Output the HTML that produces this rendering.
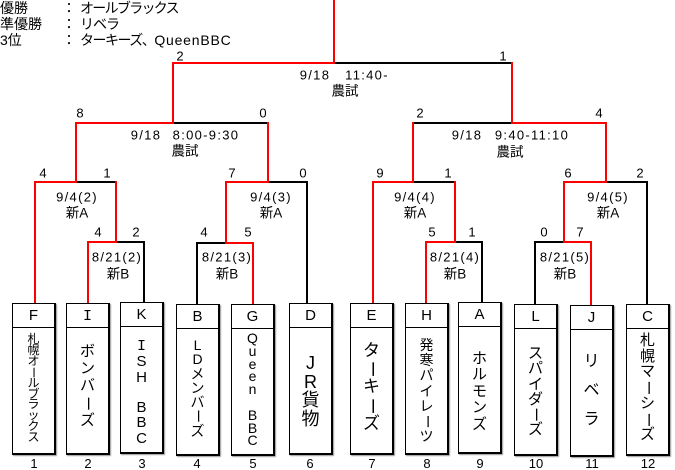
<!DOCTYPE html>
<html><head><meta charset="utf-8">
<style>
html,body{margin:0;padding:0;background:#fff;}
#c{position:relative;width:675px;height:470px;overflow:hidden;background:#fff;font-family:"Liberation Sans","Noto Sans CJK JP",sans-serif;color:#000;}
svg{position:absolute;left:0;top:0;}
.t{position:absolute;transform:translate(-50%,-50%);white-space:nowrap;line-height:1;}
.s{font-size:13px;}
.m{font-size:13px;letter-spacing:1.3px;}
.j{font-size:13.5px;}
.h{position:absolute;left:0;white-space:nowrap;font-size:14px;line-height:1;}
.box{position:absolute;box-sizing:border-box;width:44px;height:152px;border:1px solid #000;border-right-width:2px;border-bottom-width:2px;background:#fff;box-shadow:1px 1px 1px #999;}
.box .hd{position:absolute;left:0;right:0;top:0;height:23px;border-bottom:1px solid #000;text-align:center;line-height:24px;font-size:15px;}
.box .bd{position:absolute;left:0;right:0;}
.box .bd div{text-align:center;}
.r{display:inline-block;transform:rotate(90deg);}
.num{position:absolute;top:457px;font-size:13px;line-height:1;transform:translateX(-50%);}
</style></head><body>
<div id="c">
<svg width="675" height="470" viewBox="0 0 675 470">
<g fill="none" stroke="#000" stroke-width="2" stroke-linecap="square">
<path d="M334 63 H512"/>
<path d="M173 123 H268"/>
<path d="M76 182 H116"/>
<path d="M116 242 H144 V302"/>
<path d="M268 182 H307 V303"/>
<path d="M197 304 V243 H226"/>
<path d="M413 123 H512"/>
<path d="M413 182 H455"/>
<path d="M455 242 H482 V302"/>
<path d="M606 182 H647 V303"/>
<path d="M535 304 V242 H564"/>
</g>
<g fill="none" stroke="#ff0000" stroke-width="2" stroke-linecap="square">
<path d="M334 0 V63 H173 V123 H76 V182 H35 V303"/>
<path d="M268 123 V182 H226 V243 H253 V305"/>
<path d="M116 182 V242 H88 V303"/>
<path d="M512 63 V123 H606 V182 H564 V242 H591 V306"/>
<path d="M413 123 V182 H373 V303"/>
<path d="M455 182 V242 H426 V303"/>
</g>
</svg>

<!-- header -->
<div class="h" style="top:1px;">優勝</div>
<div class="h" style="top:1px;left:62px;">：</div>
<div class="h" style="top:1px;left:80px;letter-spacing:-1.7px;">オールブラックス</div>
<div class="h" style="top:17px;">準優勝</div>
<div class="h" style="top:17px;left:62px;">：</div>
<div class="h" style="top:17px;left:80px;letter-spacing:-1px;">リベラ</div>
<div class="h" style="top:33px;">3位</div>
<div class="h" style="top:33px;left:62px;">：</div>
<div class="h" style="top:33px;left:80px;"><span style="letter-spacing:-1.5px;">ターキーズ、</span><span style="letter-spacing:0.8px;">QueenBBC</span></div>

<!-- scores -->
<div class="t s" style="left:180px;top:56px;">2</div>
<div class="t s" style="left:503px;top:56px;">1</div>
<div class="t s" style="left:80px;top:113px;">8</div>
<div class="t s" style="left:263px;top:113px;">0</div>
<div class="t s" style="left:420px;top:113px;">2</div>
<div class="t s" style="left:599px;top:113px;">4</div>
<div class="t s" style="left:43px;top:173px;">4</div>
<div class="t s" style="left:107px;top:173px;">1</div>
<div class="t s" style="left:232px;top:173px;">7</div>
<div class="t s" style="left:303px;top:173px;">0</div>
<div class="t s" style="left:380px;top:173px;">9</div>
<div class="t s" style="left:448px;top:173px;">1</div>
<div class="t s" style="left:568px;top:173px;">6</div>
<div class="t s" style="left:640px;top:173px;">2</div>
<div class="t s" style="left:98px;top:232px;">4</div>
<div class="t s" style="left:136px;top:232px;">2</div>
<div class="t s" style="left:204px;top:232px;">4</div>
<div class="t s" style="left:248px;top:232px;">5</div>
<div class="t s" style="left:432px;top:232px;">5</div>
<div class="t s" style="left:472px;top:232px;">1</div>
<div class="t s" style="left:544px;top:232px;">0</div>
<div class="t s" style="left:580px;top:232px;">7</div>

<!-- match labels -->
<div class="t m" style="left:315px;top:75px;">9/18</div>
<div class="t m" style="left:367px;top:75px;">11:40-</div>
<div class="t j" style="left:345px;top:91px;">農試</div>

<div class="t m" style="left:146px;top:135px;">9/18</div>
<div class="t m" style="left:206px;top:135px;">8:00-9:30</div>
<div class="t j" style="left:185px;top:151px;">農試</div>

<div class="t m" style="left:467px;top:135px;">9/18</div>
<div class="t m" style="left:532px;top:135px;">9:40-11:10</div>
<div class="t j" style="left:510px;top:152px;">農試</div>

<div class="t m" style="left:77px;top:197px;">9/4(2)</div>
<div class="t j" style="left:77px;top:213px;">新A</div>
<div class="t m" style="left:271px;top:197px;">9/4(3)</div>
<div class="t j" style="left:271px;top:213px;">新A</div>
<div class="t m" style="left:415px;top:197px;">9/4(4)</div>
<div class="t j" style="left:415px;top:213px;">新A</div>
<div class="t m" style="left:608px;top:197px;">9/4(5)</div>
<div class="t j" style="left:608px;top:213px;">新A</div>

<div class="t m" style="left:117px;top:257px;">8/21(2)</div>
<div class="t j" style="left:118px;top:274px;">新B</div>
<div class="t m" style="left:227px;top:257px;">8/21(3)</div>
<div class="t j" style="left:227px;top:274px;">新B</div>
<div class="t m" style="left:455px;top:257px;">8/21(4)</div>
<div class="t j" style="left:455px;top:274px;">新B</div>
<div class="t m" style="left:565px;top:257px;">8/21(5)</div>
<div class="t j" style="left:565px;top:274px;">新B</div>

<!-- boxes -->
<div class="box" style="left:12px;top:303px;"><div class="hd">F</div>
<div class="bd" style="top:30px;font-size:12px;line-height:10.9px;"><div>札</div><div>幌</div><div>オ</div><div><span class="r">ー</span></div><div>ル</div><div>ブ</div><div>ラ</div><div>ッ</div><div>ク</div><div>ス</div></div></div>

<div class="box" style="left:66px;top:303px;"><div class="hd"><span style="font-family:'Liberation Mono';">I</span></div>
<div class="bd" style="top:39px;font-size:15px;line-height:17.2px;"><div>ボ</div><div>ン</div><div>バ</div><div><span class="r">ー</span></div><div>ズ</div></div></div>

<div class="box" style="left:120px;top:302px;"><div class="hd">K</div>
<div class="bd" style="top:36px;font-size:15px;line-height:15.3px;"><div style="font-family:'Liberation Mono';">I</div><div>S</div><div>H</div><div>&nbsp;</div><div>B</div><div>B</div><div>C</div></div></div>

<div class="box" style="left:176px;top:304px;"><div class="hd">B</div>
<div class="bd" style="top:33px;font-size:14px;line-height:14.3px;"><div>L</div><div>D</div><div>メ</div><div>ン</div><div>バ</div><div><span class="r">ー</span></div><div>ズ</div></div></div>

<div class="box" style="left:231px;top:304px;"><div class="hd">G</div>
<div class="bd" style="top:27px;font-size:14px;line-height:12.8px;"><div>Q</div><div>u</div><div>e</div><div>e</div><div>n</div><div>&nbsp;</div><div>B</div><div>B</div><div>C</div></div></div>

<div class="box" style="left:289px;top:303px;"><div class="hd">D</div>
<div class="bd" style="top:50px;font-size:18px;line-height:18.5px;"><div>J</div><div>R</div><div>貨</div><div>物</div></div></div>

<div class="box" style="left:350px;top:303px;"><div class="hd">E</div>
<div class="bd" style="top:38px;font-size:17px;line-height:18.2px;"><div>タ</div><div><span class="r">ー</span></div><div>キ</div><div><span class="r">ー</span></div><div>ズ</div></div></div>

<div class="box" style="left:405px;top:303px;"><div class="hd">H</div>
<div class="bd" style="top:34px;font-size:14px;line-height:15.2px;"><div>発</div><div>寒</div><div>パ</div><div>イ</div><div>レ</div><div><span class="r">ー</span></div><div>ツ</div></div></div>

<div class="box" style="left:458px;top:302px;"><div class="hd">A</div>
<div class="bd" style="top:48px;font-size:15px;line-height:16.4px;"><div>ホ</div><div>ル</div><div>モ</div><div>ン</div><div>ズ</div></div></div>

<div class="box" style="left:514px;top:304px;"><div class="hd">L</div>
<div class="bd" style="top:41px;font-size:15px;line-height:15.3px;"><div>ス</div><div>パ</div><div>イ</div><div>ダ</div><div><span class="r">ー</span></div><div>ズ</div></div></div>

<div class="box" style="left:570px;top:305px;"><div class="hd">J</div>
<div class="bd" style="top:41px;font-size:16px;line-height:29px;"><div>リ</div><div>ベ</div><div>ラ</div></div></div>

<div class="box" style="left:626px;top:304px;"><div class="hd">C</div>
<div class="bd" style="top:28px;font-size:15px;line-height:15.7px;"><div>札</div><div>幌</div><div>マ</div><div><span class="r">ー</span></div><div>シ</div><div><span class="r">ー</span></div><div>ズ</div></div></div>

<!-- numbers -->
<div class="num" style="left:34px;">1</div>
<div class="num" style="left:88px;">2</div>
<div class="num" style="left:142px;">3</div>
<div class="num" style="left:197px;">4</div>
<div class="num" style="left:253px;">5</div>
<div class="num" style="left:310px;">6</div>
<div class="num" style="left:372px;">7</div>
<div class="num" style="left:427px;">8</div>
<div class="num" style="left:480px;">9</div>
<div class="num" style="left:536px;">10</div>
<div class="num" style="left:592px;">11</div>
<div class="num" style="left:648px;">12</div>
</div>
</body></html>
